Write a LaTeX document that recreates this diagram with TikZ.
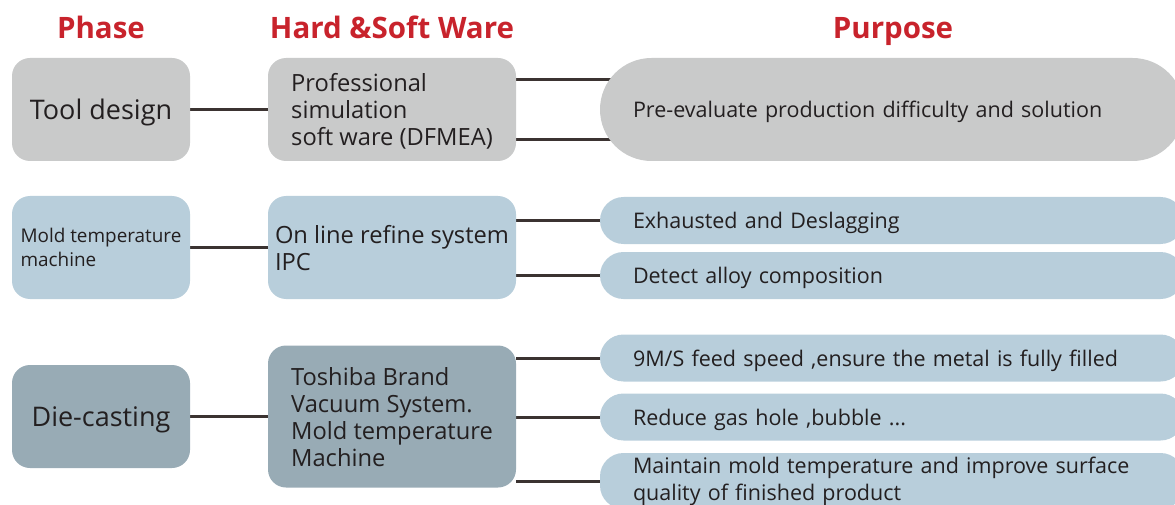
\documentclass[tikz,border=0pt]{standalone}
\usepackage{fontspec}
\setmainfont{Open Sans}
\usetikzlibrary{positioning,backgrounds}
\definecolor{mygray}{RGB}{201,202,202}
\definecolor{mylblue}{RGB}{184,206,219}
\definecolor{mydblue}{RGB}{152,171,181}
\definecolor{myred}{RGB}{200,35,44}
\definecolor{mytext}{RGB}{35,31,32}
\definecolor{myline}{RGB}{59,51,49}

\begin{document}
\begin{tikzpicture}[x=1pt,y=-1pt,outer sep=0pt,
headb/.style={
  anchor=base,
  font={\fontsize{29.5}{30}\selectfont\bfseries\color{myred}}},
phaseb/.style={
  fill=mygray,
  rounded corners=18pt,
  minimum width=178pt,
  minimum height=103pt,
  text=mytext,
  text depth=0pt,
  align=left,
  font=\fontsize{27}{30}\selectfont},
hwb/.style={phaseb,minimum width=248pt,font=\fontsize{23.7}{27}\selectfont},
purb/.style={
  fill=mylblue,
  minimum width=584pt,
  minimum height=47pt,
  rounded corners=23.5pt,
  inner xsep=33pt,
  text width=518pt,
  text depth=0pt,
  align=left,
  text=mytext,
  font=\fontsize{21.5}{27}\selectfont},
link/.style={draw=myline,line width=3pt},
]
\useasboundingbox (0,0) rectangle (1175,505);
\clip (0,0) rectangle (1175,505);

% column titles
\node[headb] (tphase) at (101,38.5) {Phase};
\node[headb] (thw) at (392,38.5) {Hard \&Soft Ware};
\node[headb] (tpur) at (893,38.5) {Purpose};

% phase column
\node[phaseb, anchor=north west] (tool) at (12,58) {Tool design};
\node[phaseb, fill=mylblue, below=35pt of tool, font=\fontsize{18.9}{24}\selectfont] (mold) {Mold temperature\\machine};
\node[phaseb, fill=mydblue, below=66pt of mold] (die) {Die-casting};

% hard & soft ware column
\node[hwb, right=78pt of tool] (prof) {Professional\\simulation\\soft ware (DFMEA)};
\node[hwb, fill=mylblue, right=78pt of mold] (online) {On line refine system\\IPC};
\node[hwb, fill=mydblue, minimum height=142pt, right=78pt of die] (tosh) {Toshiba Brand\\Vacuum System.\\Mold temperature\\Machine};

% purpose column
\node[purb, fill=mygray, minimum height=103pt, rounded corners=51.5pt, anchor=west] (pre) at (600,109.5) {Pre-evaluate production difficulty and solution};
\node[purb, anchor=west] (exh) at (600,220.5) {Exhausted and Deslagging};
\node[purb, anchor=west] (det) at (600,275.5) {Detect alloy composition};
\node[purb, anchor=west] (feed) at (600,358) {9M/S feed speed ,ensure the metal is fully filled};
\node[purb, anchor=west] (gas) at (600,417) {Reduce gas hole ,bubble ...};
\node[purb, anchor=west, minimum height=56pt, text depth=] (keep) at (600,481) {Maintain mold temperature and improve surface\\quality of finished product};

\begin{scope}[on background layer]
\draw[link] (tool) -- (prof);
\draw[link] (mold) -- (online);
\draw[link] (die) -- (tosh);
\draw[link] ([yshift=29.5pt]prof.east) -- ([yshift=29.5pt]pre.center);
\draw[link] ([yshift=-30.5pt]prof.east) -- ([yshift=-30.5pt]pre.center);
\draw[link] (online.east |- exh.center) -- (exh.center);
\draw[link] (online.east |- det.center) -- (det.center);
\draw[link] (tosh.east |- feed.center) -- (feed.center);
\draw[link] (tosh.east |- gas.center) -- (gas.center);
\draw[link] (tosh.east |- keep.center) -- (keep.center);
\end{scope}
\end{tikzpicture}
\end{document}
